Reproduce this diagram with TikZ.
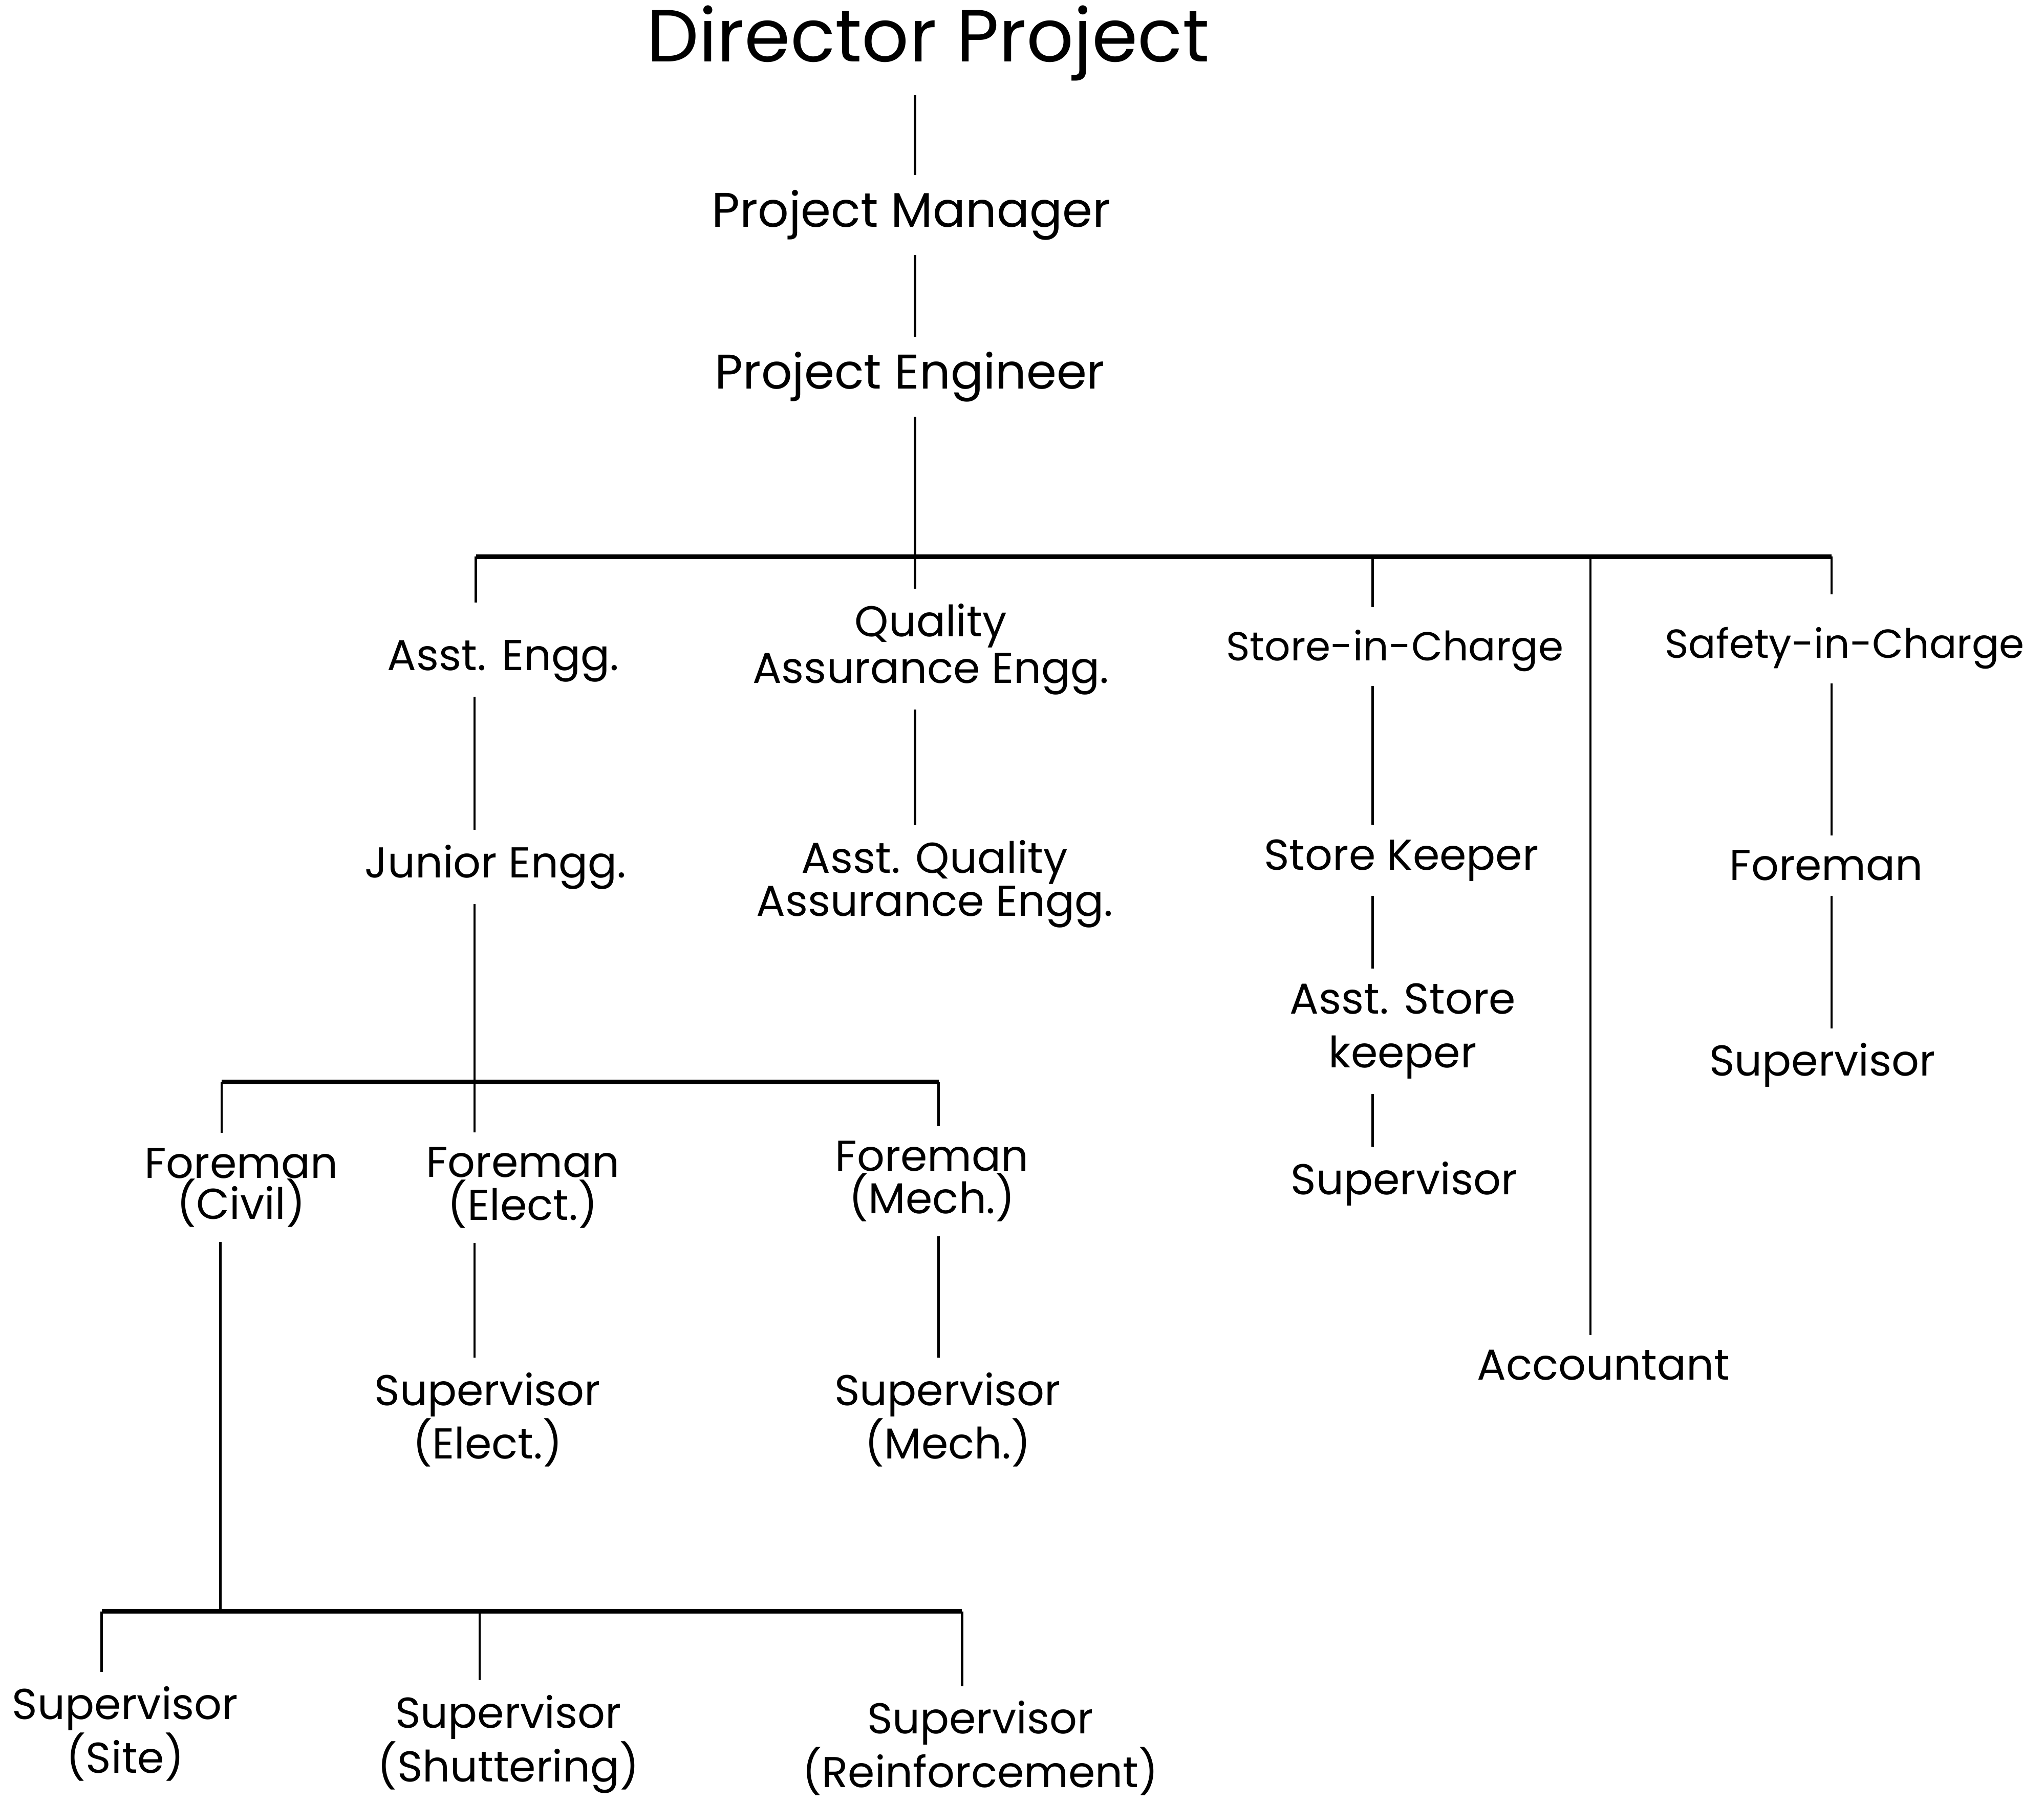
\documentclass[tikz,border=0pt]{standalone}
\usepackage{fontspec}
\setmainfont{Poppins}
\usetikzlibrary{positioning,calc}

\begin{document}
\begin{tikzpicture}[
    x=0.2547mm, y=-0.2547mm,
    role/.style={align=center, inner xsep=2pt, inner ysep=8pt,
      font=\fontsize{24}{26}\selectfont},
    link/.style={line width=1.3pt},
    bar/.style={line width=2.6pt}
  ]

  \useasboundingbox (0,0) rectangle (1568,1383);

  % top of the chart
  \node[role, font=\fontsize{41}{44}\selectfont] (director) at (712,33) {Director Project};
  \node[role, font=\fontsize{27}{30}\selectfont] (manager) at (699,165) {Project Manager};
  \node[role, font=\fontsize{27}{30}\selectfont] (engineer) at (698,289) {Project Engineer};

  % second level
  \node[role] (asstengg) at (386,507) {Asst. Engg.};
  \node[role] (quality) at (714,498) {Quality\\Assurance Engg.};
  \node[role, font=\fontsize{22.5}{26}\selectfont] (store) at (1070,499) {Store-in-Charge};
  \node[role, font=\fontsize{22.5}{26}\selectfont] (safety) at (1415,497) {Safety-in-Charge};
  \node[role] (accountant) at (1230,1047) {Accountant};

  % third level
  \node[role] (junior) at (380,665) {Junior Engg.};
  \node[role, font=\fontsize{24}{24}\selectfont] (aqa) at (717,678) {Asst. Quality\\Assurance Engg.};
  \node[role] (keeper) at (1075,660) {Store Keeper};
  \node[role] (safeforeman) at (1401,664) {Foreman};
  \node[role, font=\fontsize{24}{30}\selectfont] (asststore) at (1076,791) {Asst. Store\\keeper};
  \node[role] (storesup) at (1077,908) {Supervisor};
  \node[role] (safesup) at (1398,817) {Supervisor};

  % foremen
  \node[role, font=\fontsize{24}{23}\selectfont] (civil) at (185,911) {Foreman\\(Civil)};
  \node[role, font=\fontsize{24}{22}\selectfont] (elect) at (401,911) {Foreman\\(Elect.)};
  \node[role, font=\fontsize{24}{19}\selectfont] (mech) at (715,906) {Foreman\\(Mech.)};
  \node[role] (electsup) at (374,1089) {Supervisor\\(Elect.)};
  \node[role] (mechsup) at (727,1089) {Supervisor\\(Mech.)};

  % civil supervisors
  \node[role, font=\fontsize{24}{30}\selectfont] (site) at (96,1330) {Supervisor\\(Site)};
  \node[role, font=\fontsize{24}{30}\selectfont] (shutter) at (390,1338) {Supervisor\\(Shuttering)};
  \node[role, font=\fontsize{24}{30}\selectfont] (reinf) at (752,1341) {Supervisor\\(Reinforcement)};

  % bar points
  \coordinate (b1a) at (365,427);
  \coordinate (b1b) at (702,427);
  \coordinate (b1c) at (1053,427);
  \coordinate (b1d) at (1220,427);
  \coordinate (b1e) at (1405,427);
  \coordinate (b2a) at (170,830);
  \coordinate (b2b) at (364,830);
  \coordinate (b2c) at (720,830);
  \coordinate (b3a) at (78,1236);
  \coordinate (b3b) at (169,1236);
  \coordinate (b3c) at (368,1236);
  \coordinate (b3d) at (738,1236);

  % spine
  \draw[link] (director.south -| b1b) -- (manager.north -| b1b);
  \draw[link] (manager.south -| b1b) -- (engineer.north -| b1b);
  \draw[link] (engineer.south -| b1b) -- (quality.north -| b1b);

  % first bar
  \draw[bar] (b1a) -- (b1e);
  \draw[link, shorten >=4.5mm] (b1a) -- (asstengg.north -| b1a);
  \draw[link, shorten >=1.5mm] (b1c) -- (store.north -| b1c);
  \draw[link] (b1d) -- (accountant.north -| b1d);
  \draw[link, shorten >=3.5mm] (b1e) -- (safety.north -| b1e);

  % columns
  \draw[link] (asstengg.south -| b2b) -- (junior.north -| b2b);
  \draw[link] (quality.south -| b1b) -- (aqa.north -| b1b);
  \draw[link] (store.south -| b1c) -- (keeper.north -| b1c);
  \draw[link] (keeper.south -| b1c) -- (asststore.north -| b1c);
  \draw[link] (asststore.south -| b1c) -- (storesup.north -| b1c);
  \draw[link] (safety.south -| b1e) -- (safeforeman.north -| b1e);
  \draw[link] (safeforeman.south -| b1e) -- (safesup.north -| b1e);

  % second bar
  \draw[link] (junior.south -| b2b) -- (elect.north -| b2b);
  \draw[bar] (b2a) -- (b2c);
  \draw[link] (b2a) -- (civil.north -| b2a);
  \draw[link] (b2c) -- (mech.north -| b2c);
  \draw[link] (elect.south -| b2b) -- (electsup.north -| b2b);
  \draw[link] (mech.south -| b2c) -- (mechsup.north -| b2c);

  % third bar
  \draw[link] (civil.south -| b3b) -- (b3b);
  \draw[bar] (b3a) -- (b3d);
  \draw[link] (b3a) -- (site.north -| b3a);
  \draw[link] (b3c) -- (shutter.north -| b3c);
  \draw[link] (b3d) -- (reinf.north -| b3d);

\end{tikzpicture}
\end{document}
